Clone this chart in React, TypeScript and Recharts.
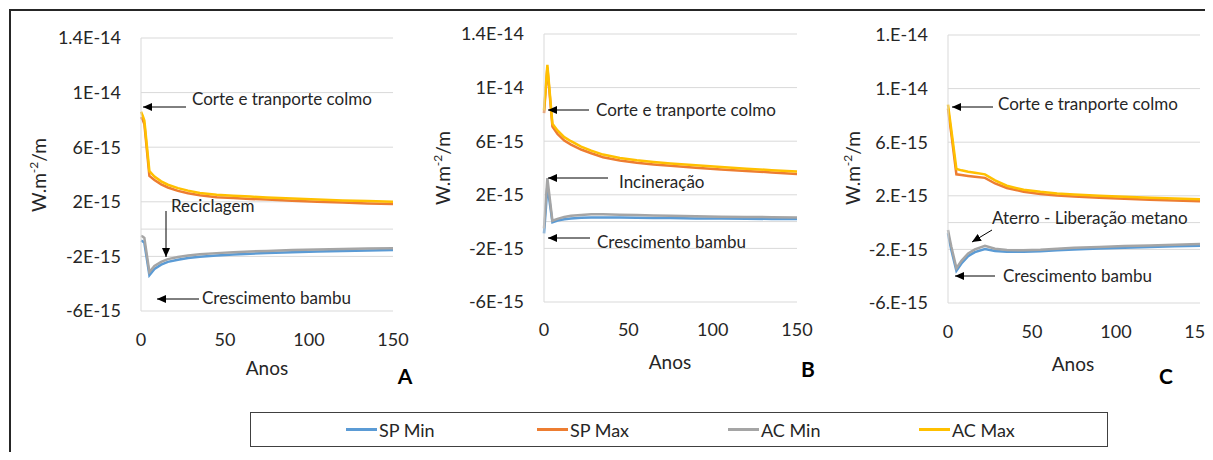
import React from 'react';
import { LineChart, Line, XAxis, YAxis, CartesianGrid, ReferenceLine } from 'recharts';

// anos (eixo x) compartilhados pelos três painéis
const years = [0, 1, 2, 5, 8, 12, 16, 22, 28, 35, 45, 55, 65, 75, 90, 105, 120, 135, 150];

// valores em 1E-15 W.m-2/m
// A - Reciclagem
const spMinA = [-0.85, -0.9, -1.0, -3.38, -2.92, -2.6, -2.4, -2.25, -2.12, -2.02, -1.93, -1.86, -1.8, -1.76, -1.7, -1.65, -1.6, -1.57, -1.54];
const spMaxA = [8.2, 8.0, 7.7, 3.9, 3.6, 3.28, 3.05, 2.8, 2.63, 2.48, 2.33, 2.27, 2.21, 2.16, 2.08, 2.01, 1.94, 1.88, 1.83];
const acMinA = [-0.5, -0.55, -0.65, -3.15, -2.7, -2.4, -2.2, -2.05, -1.93, -1.84, -1.76, -1.7, -1.64, -1.6, -1.54, -1.5, -1.46, -1.43, -1.41];
const acMaxA = [8.6, 8.3, 7.95, 4.25, 3.85, 3.5, 3.25, 3.0, 2.82, 2.65, 2.52, 2.45, 2.38, 2.32, 2.24, 2.17, 2.1, 2.05, 2.0];

// B - Incineração
const spMinB = [-0.88, 0.8, 2.7, -0.06, 0.08, 0.18, 0.24, 0.28, 0.31, 0.31, 0.3, 0.29, 0.27, 0.26, 0.24, 0.23, 0.21, 0.2, 0.19];
const spMaxB = [8.1, 9.8, 11.5, 7.1, 6.55, 6.05, 5.75, 5.38, 5.1, 4.8, 4.56, 4.39, 4.27, 4.16, 4.02, 3.89, 3.78, 3.67, 3.56];
const acMinB = [-0.5, 1.4, 3.25, 0.06, 0.2, 0.35, 0.43, 0.5, 0.54, 0.54, 0.52, 0.49, 0.46, 0.43, 0.4, 0.37, 0.35, 0.33, 0.31];
const acMaxB = [8.3, 10.0, 11.7, 7.3, 6.8, 6.3, 6.0, 5.6, 5.3, 5.0, 4.75, 4.58, 4.45, 4.34, 4.2, 4.07, 3.95, 3.84, 3.73];

// C - Aterro
const spMinC = [-0.8, -1.45, -2.05, -3.6, -3.05, -2.5, -2.2, -1.98, -2.12, -2.18, -2.18, -2.13, -2.06, -2.0, -1.94, -1.88, -1.82, -1.77, -1.73];
const spMaxC = [8.5, 7.55, 6.6, 3.6, 3.55, 3.48, 3.42, 3.34, 2.92, 2.58, 2.3, 2.14, 2.03, 1.95, 1.85, 1.78, 1.7, 1.65, 1.6];
const acMinC = [-0.55, -1.2, -1.8, -3.4, -2.85, -2.3, -2.0, -1.73, -1.95, -2.05, -2.06, -2.02, -1.95, -1.88, -1.82, -1.75, -1.7, -1.65, -1.6];
const acMaxC = [8.8, 7.85, 6.9, 4.0, 3.9, 3.8, 3.72, 3.6, 3.15, 2.75, 2.45, 2.3, 2.18, 2.1, 2.0, 1.92, 1.85, 1.8, 1.75];

const yTicks = [-6, -2, 2, 6, 10, 14];
const tickLabelsAB = ['-6E-15', '-2E-15', '2E-15', '6E-15', '1E-14', '1.4E-14'];
const tickLabelsC = ['-6.E-15', '-2.E-15', '2.E-15', '6.E-15', '1.E-14', '1.E-14'];
const xTicks = [0, 50, 100, 150];

const seriesKeys = ['spMin', 'spMax', 'acMin', 'acMax'];
const seriesNames = ['SP Min', 'SP Max', 'AC Min', 'AC Max'];
const seriesColors = ['#5B9BD5', '#ED7D31', '#A5A5A5', '#FFC000'];

const FONT = 'Lato, Carlito, Calibri, sans-serif';
const TEXT = '#262626';
const GRID = '#D9D9D9';

const buildRows = (spMin: number[], spMax: number[], acMin: number[], acMax: number[]) =>
  years.map((ano, i) => ({ ano, spMin: spMin[i], spMax: spMax[i], acMin: acMin[i], acMax: acMax[i] }));

const dataA = buildRows(spMinA, spMaxA, acMinA, acMaxA);
const dataB = buildRows(spMinB, spMaxB, acMinB, acMaxB);
const dataC = buildRows(spMinC, spMaxC, acMinC, acMaxC);

type PanelProps = {
  data: any[];
  labels: string[];
  left: number;
  top: number;
  plotW: number;
  plotH: number;
  xMargin: number;
};

const Y_AXIS_W = 121;
const TOP_PAD = 18;

const Panel = ({ data, labels, left, top, plotW, plotH, xMargin }: PanelProps) => {
  const width = Y_AXIS_W + plotW + 30;
  const height = TOP_PAD + plotH + 40;
  return (
    <div style={{ position: 'absolute', left: left - Y_AXIS_W, top: top - TOP_PAD }}>
      <LineChart width={width} height={height} data={data} margin={{ top: TOP_PAD, right: 30, bottom: 0, left: 0 }}>
        <CartesianGrid vertical={false} stroke={GRID} strokeWidth={1} />
        <XAxis
          dataKey="ano"
          type="number"
          domain={[0, 150]}
          ticks={xTicks}
          interval={0}
          height={40}
          axisLine={false}
          tickLine={false}
          tickSize={0}
          tickMargin={xMargin}
          tick={{ fill: TEXT, fontSize: 18, fontFamily: FONT }}
        />
        <YAxis
          type="number"
          domain={[-6, 14]}
          ticks={yTicks}
          interval={0}
          width={Y_AXIS_W}
          axisLine={{ stroke: GRID }}
          tickLine={false}
          tickSize={0}
          tickMargin={20}
          tickFormatter={(v: number) => labels[yTicks.indexOf(v)]}
          tick={{ fill: TEXT, fontSize: 18, fontFamily: FONT }}
        />
        <ReferenceLine y={0} stroke={GRID} strokeWidth={1} />
        {seriesKeys.map((k, i) => (
          <Line
            key={k}
            dataKey={k}
            name={seriesNames[i]}
            type="linear"
            stroke={seriesColors[i]}
            strokeWidth={2.5}
            dot={false}
            isAnimationActive={false}
          />
        ))}
      </LineChart>
    </div>
  );
};

const YTitle = ({ cx, cy }: { cx: number; cy: number }) => (
  <div
    style={{
      position: 'absolute',
      left: cx,
      top: cy,
      transform: 'translate(-50%, -50%) rotate(-90deg)',
      fontSize: 19,
      whiteSpace: 'nowrap',
      color: TEXT,
    }}
  >
    W.m<sup style={{ fontSize: 12 }}>-2</sup>/m
  </div>
);

const CenterText = ({ cx, cy, children, size = 19, bold = false }: any) => (
  <div
    style={{
      position: 'absolute',
      left: cx,
      top: cy,
      transform: 'translate(-50%, -50%)',
      fontSize: size,
      fontWeight: bold ? 700 : 400,
      whiteSpace: 'nowrap',
      color: bold ? '#000' : TEXT,
      lineHeight: 1,
    }}
  >
    {children}
  </div>
);

// anotações: texto + seta
const notes = [
  { text: 'Corte e tranporte colmo', x: 192, y: 98, a: [186, 107, 143, 107] },
  { text: 'Reciclagem', x: 171, y: 205, a: [166, 211, 166, 257] },
  { text: 'Crescimento bambu', x: 202, y: 297, a: [199, 299, 157, 299] },
  { text: 'Corte e tranporte colmo', x: 596, y: 109, a: [589, 110, 548, 110] },
  { text: 'Incineração', x: 619, y: 181, a: [608, 178, 548, 178] },
  { text: 'Crescimento bambu', x: 597, y: 241, a: [590, 238, 548, 238] },
  { text: 'Corte e tranporte colmo', x: 998, y: 103, a: [993, 107, 952, 107] },
  { text: 'Aterro - Liberação metano', x: 992, y: 217, a: [992, 230, 972, 242] },
  { text: 'Crescimento bambu', x: 1003, y: 275, a: [995, 276, 955, 276] },
];

export default function App() {
  return (
    <div
      style={{
        position: 'relative',
        margin: -8,
        width: 1213,
        height: 460,
        overflow: 'hidden',
        background: '#fff',
        fontFamily: FONT,
      }}
    >
      <div
        style={{
          position: 'absolute',
          left: 9,
          top: 9,
          width: 1300,
          height: 520,
          border: '2px solid #262626',
          boxSizing: 'border-box',
        }}
      />

      <Panel data={dataA} labels={tickLabelsAB} left={141} top={38} plotW={252} plotH={273} xMargin={22} />
      <Panel data={dataB} labels={tickLabelsAB} left={544} top={34} plotW={253} plotH={268} xMargin={21} />
      <Panel data={dataC} labels={tickLabelsC} left={948} top={35} plotW={252} plotH={268} xMargin={22} />

      <YTitle cx={38} cy={175} />
      <YTitle cx={442} cy={168} />
      <YTitle cx={852} cy={168} />

      <CenterText cx={267} cy={367}>Anos</CenterText>
      <CenterText cx={670} cy={361}>Anos</CenterText>
      <CenterText cx={1073} cy={363}>Anos</CenterText>

      <CenterText cx={405} cy={375} size={21} bold>A</CenterText>
      <CenterText cx={808} cy={368} size={21} bold>B</CenterText>
      <CenterText cx={1166} cy={375} size={21} bold>C</CenterText>

      <svg width={1213} height={460} style={{ position: 'absolute', left: 0, top: 0, pointerEvents: 'none' }}>
        <defs>
          <marker id="seta" markerUnits="userSpaceOnUse" markerWidth={9} markerHeight={8} refX={9} refY={4} orient="auto">
            <path d="M0,0 L9,4 L0,8 z" fill="#000" />
          </marker>
        </defs>
        {notes.map((n, i) => (
          <g key={i}>
            <line x1={n.a[0]} y1={n.a[1]} x2={n.a[2]} y2={n.a[3]} stroke="#000" strokeWidth={1} markerEnd="url(#seta)" />
            <text x={n.x} y={n.y} dominantBaseline="central" fontSize={17} fontFamily={FONT} fill={TEXT}>
              {n.text}
            </text>
          </g>
        ))}
      </svg>

      <div
        style={{
          position: 'absolute',
          left: 250,
          top: 412,
          width: 858,
          height: 35,
          border: '1px solid #404040',
          boxSizing: 'border-box',
          display: 'flex',
          alignItems: 'center',
          paddingLeft: 95,
        }}
      >
        {seriesNames.map((name, i) => (
          <div key={name} style={{ width: 191, display: 'flex', alignItems: 'center', flexShrink: 0 }}>
            <span style={{ display: 'inline-block', width: 31, height: 2.5, background: seriesColors[i], marginRight: 2 }} />
            <span style={{ fontSize: 18, color: TEXT, whiteSpace: 'nowrap' }}>{name}</span>
          </div>
        ))}
      </div>
    </div>
  );
}
